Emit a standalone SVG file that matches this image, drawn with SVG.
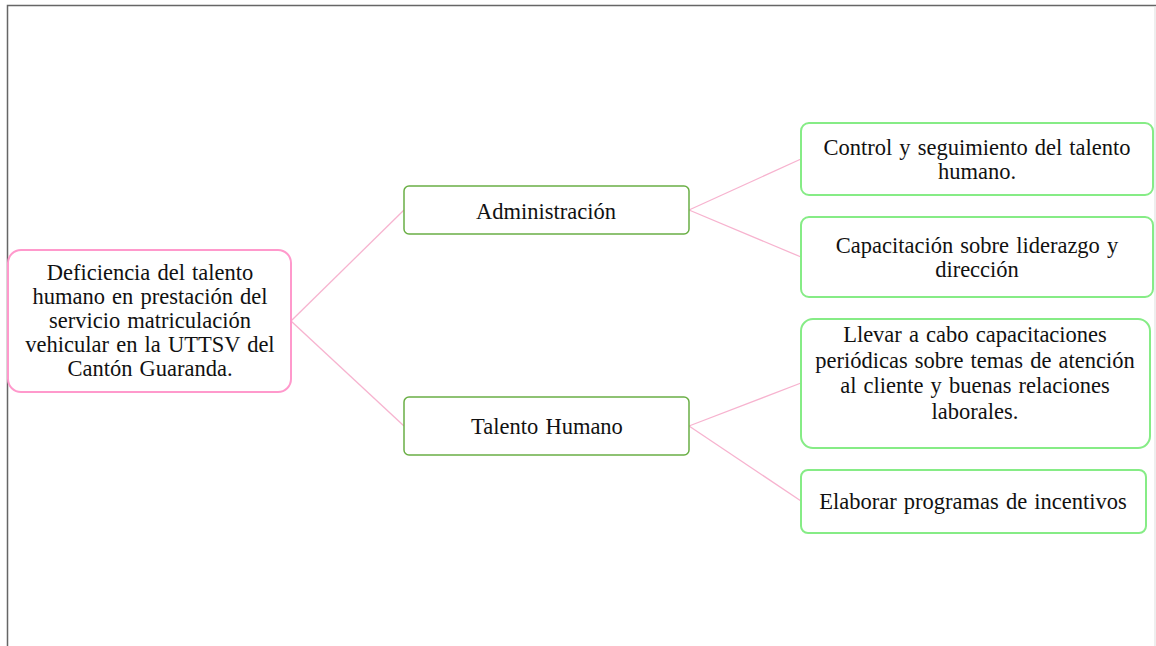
<svg xmlns="http://www.w3.org/2000/svg" width="1156" height="646" viewBox="0 0 1156 646">
<style>
text{font-family:"Liberation Serif","Times New Roman",serif;font-size:22.5px;fill:#111;text-anchor:middle;word-spacing:1.5px}
.root{fill:#fff;stroke:#ff99cc;stroke-width:2}
.mid{fill:#fff;stroke:#6aaf45;stroke-width:1.5}
.leaf{fill:#fff;stroke:#86ec86;stroke-width:2}
.conn line{stroke:#f7b3cf;stroke-width:1.3}
</style>
<rect width="1156" height="646" fill="#fff"/>
<path d="M7.5 646 V5.5 H1156" fill="none" stroke="#666" stroke-width="1.5"/>
<line x1="1155" y1="6" x2="1155" y2="646" stroke="#ddd" stroke-width="1"/>
<g class="conn" id="connectors">
<line x1="291" y1="321" x2="404" y2="210"/>
<line x1="291" y1="321" x2="404" y2="426"/>
<line x1="689" y1="210" x2="801" y2="159"/>
<line x1="689" y1="210" x2="801" y2="257"/>
<line x1="689" y1="426" x2="801" y2="383"/>
<line x1="689" y1="426" x2="801" y2="501"/>
</g>
<g id="root">
<rect class="root" x="8" y="250" width="283" height="142" rx="13"/>
<text x="150" y="280">Deficiencia del talento</text>
<text x="150" y="304">humano en prestación del</text>
<text x="150" y="328">servicio matriculación</text>
<text x="150" y="352">vehicular en la UTTSV del</text>
<text x="150" y="376">Cantón Guaranda.</text>
</g>
<g id="admin">
<rect class="mid" x="404" y="186" width="285" height="48" rx="5"/>
<text x="546" y="219">Administración</text>
</g>
<g id="talento">
<rect class="mid" x="404" y="397" width="285" height="58" rx="5"/>
<text x="547" y="434">Talento Humano</text>
</g>
<g id="control">
<rect class="leaf" x="801" y="123" width="352" height="72" rx="8"/>
<text x="977" y="155">Control y seguimiento del talento</text>
<text x="977" y="179">humano.</text>
</g>
<g id="capacitacion">
<rect class="leaf" x="801" y="217" width="352" height="80" rx="8"/>
<text x="977" y="253">Capacitación sobre liderazgo y</text>
<text x="977" y="277">dirección</text>
</g>
<g id="llevar">
<rect class="leaf" x="801" y="319" width="349" height="129" rx="12"/>
<text x="975" y="342">Llevar a cabo capacitaciones</text>
<text x="975" y="368">periódicas sobre temas de atención</text>
<text x="975" y="393">al cliente y buenas relaciones</text>
<text x="975" y="419">laborales.</text>
</g>
<g id="elaborar">
<rect class="leaf" x="801" y="470" width="345" height="63" rx="7"/>
<text x="973" y="509">Elaborar programas de incentivos</text>
</g>
</svg>
